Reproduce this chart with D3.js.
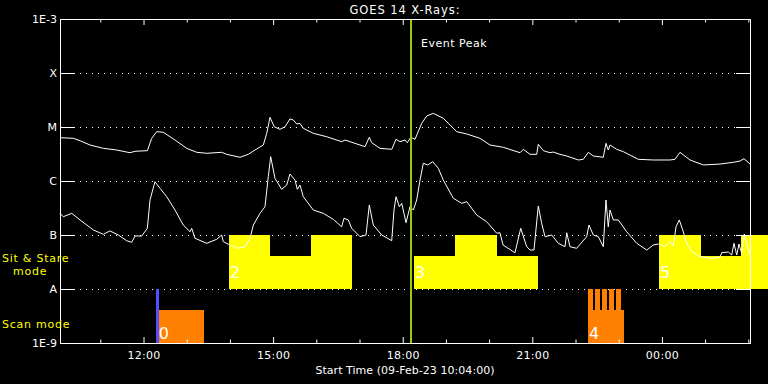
<!DOCTYPE html>
<html><head><meta charset="utf-8">
<script src="https://cdn.jsdelivr.net/npm/d3@7"></script>
<style>
body{margin:0;background:#000}
svg{display:block}
text{font-family:"DejaVu Sans",sans-serif}
</style>
</head><body>
<svg id="c" width="768" height="384"></svg>
<script>
// ---------------- data ----------------
const startTime = "2023-02-09T10:04:00Z";
const endTime   = "2023-02-10T02:02:20Z";
const titleText = "GOES 14 X-Rays:";
const xTitle = "Start Time (09-Feb-23 10:04:00)";
const levelValues = [1e-9, 1e-8, 1e-7, 1e-6, 1e-5, 1e-4, 1e-3];
const levelLabels = ["1E-9", "A", "B", "C", "M", "X", "1E-3"];
const hourTickLabels = ["12:00", "15:00", "18:00", "21:00", "00:00"];

// GOES long channel (1-8 A): minutes after start, flux W/m^2
const longMin = [0,18.5,27.8,41.7,60.1,78.8,97.2,104.2,121.3,127.4,134.3,143.5,159.7,176,189.9,203.8,224.6,231.5,250,261.5,270.8,282.4,287.1,291.7,297.6,305.6,312.5,319.4,324,328.7,333.3,337.9,351.8,370.4,391.2,395.8,402.8,423.6,429.6,432.9,444.4,460.7,466.7,472.2,479.2,482.4,487.1,493.1,502.4,509.3,518.5,532.4,551,564.9,583.3,597.2,615.7,638.9,643.5,652.8,662.1,664.3,671.3,680.6,685.1,694.4,703.8,719.9,726.8,733.8,740.7,754.6,758.3,761.5,763.9,773.2,782.4,803.2,824,847.2,854.2,861.1,875,893.5,916.7,935.1,944.4,950,958.3];
const longFlux = [6.34e-6,6.18e-6,5.57e-6,4.64e-6,4.03e-6,3.75e-6,3.34e-6,3.55e-6,3.64e-6,6.18e-6,
8.19e-6,7.98e-6,5.74e-6,4.03e-6,3.40e-6,3.26e-6,3.40e-6,3.12e-6,2.75e-6,3.12e-6,
3.75e-6,4.64e-6,7.64e-6,1.51e-5,1.01e-5,9.06e-6,1.01e-5,1.41e-5,1.35e-5,1.14e-5,
1.17e-5,9.46e-6,7.64e-6,6.61e-6,5.34e-6,5.74e-6,5.34e-6,4.32e-6,6.45e-6,5.12e-6,
4.03e-6,3.86e-6,5.92e-6,5.34e-6,5.74e-6,5.12e-6,6.45e-6,5.92e-6,1.17e-5,1.60e-5,
1.79e-5,1.45e-5,8.19e-6,7.42e-6,6.18e-6,4.64e-6,4.21e-6,3.34e-6,3.86e-6,3.12e-6,
3.12e-6,4.78e-6,3.64e-6,3.34e-6,3.44e-6,3.12e-6,2.90e-6,2.45e-6,2.52e-6,3.40e-6,
2.90e-6,2.75e-6,4.99e-6,3.75e-6,4.64e-6,3.86e-6,3.49e-6,2.52e-6,2.45e-6,2.45e-6,
2.52e-6,3.40e-6,2.45e-6,1.98e-6,2.06e-6,2.22e-6,2.34e-6,2.59e-6,2.06e-6];

// GOES short channel (0.5-4 A)
const shortMin = [0,4.6,16.3,27.8,46.3,60.1,69.4,81,92.6,99.6,
104.2,113.5,121.3,125,131.9,138.9,148.2,159.7,171.2,180.6,
182.9,187.5,203.8,217.6,224.6,226.8,245.4,256.9,263.9,268.5,
277.8,284.7,289.3,292.6,298.6,307.9,314.9,319.4,326.4,329.6,
333.3,337.9,351.8,365.7,379.6,391.2,394.4,400.4,405.1,416.7,
425,429.6,435.1,446.8,460.7,463.9,466.7,471.3,474.6,480.6,
486.1,490.7,495.4,500,504.6,510.7,517.6,525.4,532.4,546.3,
557.9,564.9,578.8,592.6,606.5,611.1,615.3,631.9,639.9,648.2,
652.8,658.3,664.3,669,673.6,682.9,692.1,701.4,703.8,708.3,
717.6,731.5,734.7,740.7,747.7,754.6,758.3,761.5,763.9,768.5,
775.4,787.1,801,814.9,824,831,840.3,847.2,851.8,855.6,
860.1,864.9,870.4,877.4,888.9,902.8,916.7,919,928.2,932.9,
936.1,939.9,943,946.8,950.4,954.6,958.3];
const shortFlux = [2.52e-7,2.18e-7,2.52e-7,1.90e-7,1.24e-7,1.03e-7,1.19e-7,1.0e-7,7.84e-8,7.32e-8,
9.58e-8,9.58e-8,1.33e-7,4.45e-7,9.7e-7,7.32e-7,5.12e-7,2.90e-7,1.53e-7,1.15e-7,
1.33e-7,8.69e-8,7.02e-8,8.32e-8,1.0e-7,7.51e-8,5.67e-8,6.07e-8,8.69e-8,1.53e-7,
2.52e-7,3.34e-7,1.20e-6,2.82e-6,1.12e-6,7.02e-7,8.43e-7,1.35e-6,1.04e-6,7.02e-7,
8.43e-7,5.12e-7,2.90e-7,2.52e-7,1.95e-7,1.42e-7,2.04e-7,1.90e-7,1.33e-7,9.31e-8,
1.0e-7,3.59e-7,1.53e-7,1.0e-7,7.84e-8,2.90e-7,5.12e-7,3.34e-7,3.86e-7,1.69e-7,
3.34e-7,2.90e-7,4.45e-7,1.04e-6,2.13e-6,1.98e-6,2.28e-6,1.72e-6,1.04e-6,4.78e-7,
3.86e-7,4.14e-7,2.34e-7,1.76e-7,1.08e-7,1.10e-7,6.53e-8,4.70e-8,1.33e-7,6.07e-8,
5.27e-8,5.27e-8,3.44e-7,1.65e-7,9.31e-8,1.0e-7,7.02e-8,6.07e-8,1.10e-7,6.07e-8,
5.67e-8,9.31e-8,1.53e-7,1.0e-7,9.31e-8,6.07e-8,4.45e-7,1.42e-7,2.90e-7,1.90e-7,
1.90e-7,1.15e-7,7.02e-8,5.27e-8,6.53e-8,6.81e-8,6.07e-8,7.51e-8,6.25e-8,1.42e-7,
1.90e-7,1.24e-7,7.02e-8,4.91e-8,3.96e-8,3.70e-8,3.86e-8,4.70e-8,4.84e-8,4.26e-8,
7.02e-8,4.26e-8,6.81e-8,4.58e-8,1.04e-7,6.07e-8,4.26e-8];

// Sit & Stare mode segments (minutes after start, relative level)
const sitStart = [234.7, 291.7, 348.6, 491.7, 548.6, 606.9, 831.9, 890.3, 945.8];
const sitEnd   = [291.7, 348.6, 405.6, 548.6, 606.9, 663.9, 890.3, 945.8, 1000];
const sitLevel = [1, 0.61, 1, 0.61, 1, 0.61, 1, 0.61, 1];
const sitIds = ["2", "3", "5"];
const sitIdMin = [234.7, 491.7, 831.9];

// Scan mode segments
const scanStart = [135.7, 733.3, 733.3, 743.1, 752.8, 762.5, 772.2];
const scanEnd   = [200, 783.3, 740.3, 750, 759.7, 769.4, 779.2];
const scanLevel = [0.61, 0.61, 1, 1, 1, 1, 1];
const scanIds = ["0", "4"];
const scanIdMin = [135.7, 733.3];
const scanMarkerMin = 134.7;

const eventPeakMin = 487.5;

// ---------------- chart ----------------
const svg = d3.select("#c");
const W = 768, H = 384;
const m = {l: 60, r: 750, t: 19, b: 343};
svg.append("rect").attr("width", W).attr("height", H).attr("fill", "#000");

const t0 = new Date(startTime);
const toDate = mins => new Date(t0.getTime() + mins * 60000);
const x = d3.scaleUtc().domain([t0, new Date(endTime)]).range([m.l, m.r]);
const y = d3.scaleLog().domain([1e-9, 1e-3]).range([m.b, m.t]);

const sitBand = d3.scaleLinear().domain([0, 1]).range([y(1e-8), y(1e-7)]);
const scanBand = d3.scaleLinear().domain([0, 1]).range([y(1e-9), y(1e-8)]);

// gridlines (dotted)
svg.append("g").selectAll("line").data(levelValues.slice(1, -1)).join("line")
  .attr("x1", m.l + 14).attr("x2", m.r - 14)
  .attr("y1", d => Math.round(y(d)) + 0.5).attr("y2", d => Math.round(y(d)) + 0.5)
  .attr("stroke", "#fff").attr("stroke-width", 1).attr("stroke-dasharray", "1,5");

// sit & stare blocks
svg.append("g").selectAll("rect").data(sitStart.map((s, i) => i)).join("rect")
  .attr("x", i => x(toDate(sitStart[i])))
  .attr("width", i => x(toDate(sitEnd[i])) - x(toDate(sitStart[i])))
  .attr("y", i => sitBand(sitLevel[i]))
  .attr("height", i => sitBand(0) - sitBand(sitLevel[i]))
  .attr("fill", "#ffff00").attr("shape-rendering", "crispEdges");

// scan blocks
svg.append("g").selectAll("rect").data(scanStart.map((s, i) => i)).join("rect")
  .attr("x", i => x(toDate(scanStart[i])))
  .attr("width", i => x(toDate(scanEnd[i])) - x(toDate(scanStart[i])))
  .attr("y", i => scanBand(scanLevel[i]))
  .attr("height", i => scanBand(0) - scanBand(scanLevel[i]))
  .attr("fill", "#ff8000").attr("shape-rendering", "crispEdges");

svg.append("rect")
  .attr("x", Math.round(x(toDate(scanMarkerMin))) - 1).attr("width", 3)
  .attr("y", scanBand(1)).attr("height", scanBand(0) - scanBand(1))
  .attr("fill", "#5050ff").attr("shape-rendering", "crispEdges");

// block ids
svg.append("g").selectAll("text").data(sitIds).join("text")
  .attr("x", (d, i) => x(toDate(sitIdMin[i])) + 1)
  .attr("y", sitBand(0) - 11)
  .attr("fill", "#fff").attr("font-size", 16).text(d => d);
svg.append("g").selectAll("text").data(scanIds).join("text")
  .attr("x", (d, i) => x(toDate(scanIdMin[i])) + 1)
  .attr("y", scanBand(0) - 4)
  .attr("fill", "#fff").attr("font-size", 16).text(d => d);

// curves
const line = d3.line().x(d => x(d[0])).y(d => y(d[1]));
const longData = longMin.map((mm, i) => [toDate(mm), longFlux[i]]);
const shortData = shortMin.map((mm, i) => [toDate(mm), shortFlux[i]]);
[longData, shortData].forEach(dd => {
  svg.append("path").datum(dd).attr("d", line)
    .attr("fill", "none").attr("stroke", "#fff").attr("stroke-width", 1)
    .attr("stroke-linejoin", "round");
});

// event peak
const ex = x(toDate(eventPeakMin));
svg.append("line").attr("x1", ex).attr("x2", ex).attr("y1", m.t).attr("y2", m.b)
  .attr("stroke", "#9acd00").attr("stroke-width", 2);
svg.append("text").attr("x", ex + 10).attr("y", 47).attr("fill", "#fff")
  .attr("font-size", 11).attr("letter-spacing", 0.5).text("Event Peak");

// axes
const axStyle = g => {
  g.selectAll("path,line").attr("stroke", "#fff").attr("stroke-width", 1);
  g.selectAll("text").attr("fill", "#fff").attr("font-family", "DejaVu Sans").attr("font-size", 11);
};
svg.append("g").attr("transform", `translate(${m.l},0)`)
  .call(d3.axisLeft(y).tickValues(levelValues).tickFormat((d, i) => levelLabels[i])
    .tickSize(-14).tickPadding(3))
  .call(axStyle);
svg.append("g").attr("transform", `translate(${m.r},0)`)
  .call(d3.axisRight(y).tickValues(levelValues).tickFormat("").tickSize(-14))
  .call(axStyle);

const hourTicks = d3.utcHour.range(d3.utcHour.ceil(x.domain()[0]), x.domain()[1]);
const majorTicks = hourTickLabels.map(l => hourTicks.find(h => d3.utcFormat("%H:%M")(h) === l));
const minorTicks = hourTicks.filter(h => !majorTicks.includes(h));

[[d3.axisBottom, m.b], [d3.axisTop, m.t]].forEach(([ax, yy]) => {
  svg.append("g").attr("transform", `translate(0,${yy})`)
    .call(ax(x).tickValues(minorTicks).tickFormat("").tickSize(-3.5).tickSizeOuter(0))
    .call(axStyle);
  svg.append("g").attr("transform", `translate(0,${yy})`)
    .call(ax(x).tickValues(majorTicks)
      .tickFormat((d, i) => yy === m.b ? hourTickLabels[i] : "")
      .tickSize(-6).tickSizeOuter(0).tickPadding(8))
    .call(axStyle)
    .call(g => g.selectAll("text").attr("letter-spacing", 0.3));
});

// titles
svg.append("text").attr("x", (m.l + m.r) / 2).attr("y", 14).attr("text-anchor", "middle")
  .attr("fill", "#fff").attr("font-size", 11.5).attr("letter-spacing", 0.9).text(titleText);
svg.append("text").attr("x", (m.l + m.r) / 2).attr("y", 374).attr("text-anchor", "middle")
  .attr("fill", "#fff").attr("font-size", 11).attr("letter-spacing", 0.05).text(xTitle);

// legend labels
const legend = [["Sit & Stare", 2, 261.5], ["mode", 13, 275], ["Scan mode", 2, 328]];
svg.append("g").selectAll("text").data(legend).join("text")
  .attr("x", d => d[1]).attr("y", d => d[2]).attr("fill", "#ffff00")
  .attr("font-size", 11).attr("letter-spacing", 0.75).text(d => d[0]);
</script>
</body></html>
